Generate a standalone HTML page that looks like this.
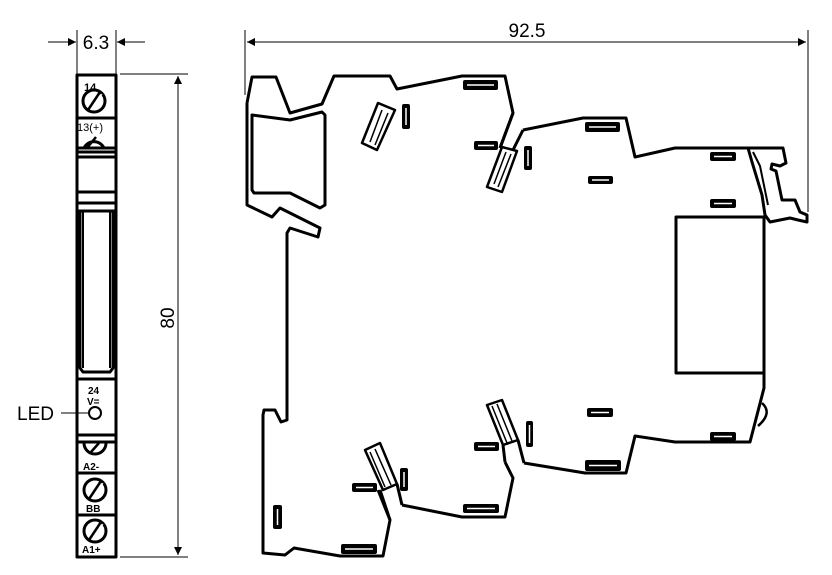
<!DOCTYPE html>
<html><head><style>
html,body{margin:0;padding:0;background:#fff;}
svg{display:block;}
text{font-family:"Liberation Sans",Arial,sans-serif;fill:#000;}
</style></head><body>
<svg width="832" height="575" viewBox="0 0 832 575" xmlns="http://www.w3.org/2000/svg">
<defs>
<marker id="ar" viewBox="0 0 10 10" refX="10" refY="5" markerWidth="12" markerHeight="8" orient="auto" markerUnits="userSpaceOnUse"><path d="M0,0 L10,5 L0,10 z" fill="#000"/></marker>
</defs>
<g stroke="#000" stroke-width="1" fill="none">
<line x1="77" y1="30" x2="77" y2="74"/>
<line x1="116" y1="30" x2="116" y2="74"/>
<line x1="48" y1="42" x2="76" y2="42" marker-end="url(#ar)"/>
<line x1="145" y1="42" x2="117" y2="42" marker-end="url(#ar)"/>
<line x1="120" y1="74" x2="188" y2="74"/>
<line x1="120" y1="557" x2="188" y2="557"/>
<line x1="178" y1="76" x2="178" y2="555" marker-end="url(#ar)"/>
<line x1="178" y1="555" x2="178" y2="76" marker-end="url(#ar)"/>
<line x1="61" y1="413" x2="88" y2="413"/>
<line x1="245" y1="30" x2="245" y2="95"/>
<line x1="808" y1="30" x2="808" y2="212"/>
<line x1="247" y1="42" x2="806" y2="42" marker-end="url(#ar)"/>
<line x1="806" y1="42" x2="247" y2="42" marker-end="url(#ar)"/>
</g>
<text x="96" y="49" font-size="19" text-anchor="middle">6.3</text>
<text x="527" y="37" font-size="19" text-anchor="middle">92.5</text>
<text x="0" y="0" font-size="19" text-anchor="middle" transform="translate(174,318) rotate(-90)">80</text>
<text x="17" y="420" font-size="19">LED</text>

<g stroke="#000" stroke-width="3" fill="none" stroke-linejoin="round">
<rect x="77" y="75" width="39" height="482"/>
<line x1="77" y1="118" x2="116" y2="118"/>
<line x1="77" y1="148" x2="116" y2="148"/>
<line x1="77" y1="152" x2="116" y2="152"/>
<line x1="77" y1="157" x2="116" y2="157"/>
<line x1="77" y1="192" x2="116" y2="192"/>
<line x1="77" y1="203" x2="116" y2="203"/>
<line x1="77" y1="211" x2="116" y2="211"/>
<path d="M80,211 V368 L83,372 H110 L113,368 V211"/>
<line x1="83" y1="211" x2="83" y2="368" stroke-width="2"/>
<line x1="110" y1="211" x2="110" y2="368" stroke-width="2"/>
<line x1="77" y1="379" x2="116" y2="379"/>
<line x1="77" y1="435" x2="116" y2="435"/>
<line x1="77" y1="442" x2="116" y2="442"/>
<line x1="77" y1="473" x2="116" y2="473"/>
<line x1="77" y1="515" x2="116" y2="515"/>
<circle cx="94" cy="101" r="11"/>
<circle cx="95" cy="413" r="6" stroke-width="2"/>
<circle cx="95" cy="490" r="11"/>
<circle cx="95" cy="531" r="11"/>
<path d="M84,148 A11,11 0 0 1 104,148"/>
<path d="M84,443 A11,11 0 0 0 106,443"/>
</g>
<g stroke="#000" stroke-width="2.5">
<line x1="88" y1="110" x2="100" y2="92"/><line x1="87" y1="148" x2="96" y2="137"/>
<line x1="89" y1="499" x2="101" y2="481"/><line x1="89" y1="540" x2="101" y2="522"/>
<line x1="91" y1="452" x2="99" y2="443"/>
</g>
<g stroke="#fff" stroke-width="1"><line x1="92" y1="109" x2="102" y2="94"/><line x1="93" y1="498" x2="103" y2="483"/><line x1="93" y1="539" x2="103" y2="524"/></g>
<text x="84" y="91" font-size="11" font-weight="bold">14</text>
<text x="77" y="131" font-size="11">13(+)</text>
<text x="88" y="394" font-size="10" font-weight="bold">24</text>
<text x="87" y="405" font-size="10" font-weight="bold">V=</text>
<text x="83" y="470" font-size="10" font-weight="bold">A2-</text>
<text x="86" y="512" font-size="10" font-weight="bold">BB</text>
<text x="82" y="553" font-size="10" font-weight="bold">A1+</text>

<g stroke="#000" stroke-width="3" fill="none" stroke-linejoin="round">
<path d="M247,103 L252,77 H276 L290,113 L322,104 L334,76 H390 L397,89 L462,76 H505 L513,113 L500,148"/>
<path d="M523,130 L583,118 H626 L635,157 L675,148 H783 L786,163 L780,166 L772,164 L771,169 L776,171 L782,200 L795,200 L800,212 L807,215 L807,222 L798,220 L790,218 L770,222 L765,215 L762,195 L752,162 L748,148"/>
<path d="M753,152 L760,166 L768,205" stroke-width="2"/>
<path d="M764,222 V388 L750,442 H675 L635,436 L626,473 H585 L524,463"/>
<path d="M762,403 Q773,413 758,426" stroke-width="2.5"/>
<rect x="676" y="217" width="88" height="156"/>
<path d="M247,103 V205 L272,217 L280,208 L320,228 L318,237 L290,228 L287,233 V420 L281,422 L275,410 H264 L263,415 V553 L285,555 L294,548 L340,556 H383 L390,520 L378,490"/>
<path d="M402,505 L462,517 H505 L513,478 L505,462"/>
<path d="M513,113 L500,148 M523,130 L513,150"/>
<path d="M252,115 L290,120 L322,112 L325,115 V205 L320,208 L290,193 H254 L252,190 Z"/>
<g stroke-width="2.5">
<path d="M378,103 L395,110 L377,150 L362,143 Z"/>
<path d="M502,147 L517,151 L502,192 L487,187 Z"/>
<path d="M365,450 L380,443 L397,484 L383,490 Z"/>
<path d="M487,405 L502,400 L518,440 L503,445 Z"/>
</g>
<path d="M382,110 L370,142 M388,113 L375,145" stroke-width="1.5"/>
<path d="M506,152 L494,184 M511,154 L498,187" stroke-width="1.5"/>
<path d="M370,452 L385,487 M375,449 L391,485" stroke-width="1.5"/>
<path d="M492,406 L507,443 M497,404 L512,441" stroke-width="1.5"/>
<path d="M380,490 L390,520 M397,484 L402,505 M505,462 L503,445 M518,440 L524,463" />
</g>
<g fill="#000">
<rect x="402" y="104" width="8" height="25" rx="2"/>
<rect x="463" y="80" width="35" height="10" rx="2"/>
<rect x="474" y="141" width="24" height="9" rx="2"/>
<rect x="524" y="146" width="8" height="24" rx="2"/>
<rect x="585" y="122" width="35" height="10" rx="2"/>
<rect x="588" y="176" width="25" height="8" rx="2"/>
<rect x="710" y="152" width="26" height="9" rx="2"/>
<rect x="710" y="199" width="26" height="9" rx="2"/>
<rect x="273" y="505" width="9" height="24" rx="2"/>
<rect x="352" y="483" width="25" height="9" rx="2"/>
<rect x="341" y="544" width="36" height="10" rx="2"/>
<rect x="400" y="468" width="8" height="23" rx="2"/>
<rect x="474" y="442" width="25" height="9" rx="2"/>
<rect x="463" y="504" width="36" height="9" rx="2"/>
<rect x="526" y="421" width="7" height="26" rx="2"/>
<rect x="587" y="408" width="26" height="9" rx="2"/>
<rect x="585" y="460" width="36" height="11" rx="2"/>
<rect x="710" y="432" width="26" height="9" rx="2"/>
</g>
<g stroke="#fff" stroke-width="1.5">
<line x1="406" y1="108" x2="406" y2="125"/>
<line x1="467" y1="85" x2="494" y2="85"/>
<line x1="478" y1="145.5" x2="494" y2="145.5"/>
<line x1="528" y1="150" x2="528" y2="166"/>
<line x1="589" y1="127" x2="616" y2="127"/>
<line x1="592" y1="180" x2="609" y2="180"/>
<line x1="714" y1="156.5" x2="732" y2="156.5"/>
<line x1="714" y1="203.5" x2="732" y2="203.5"/>
<line x1="277.5" y1="509" x2="277.5" y2="525"/>
<line x1="356" y1="487.5" x2="373" y2="487.5"/>
<line x1="345" y1="549" x2="373" y2="549"/>
<line x1="404" y1="472" x2="404" y2="487"/>
<line x1="478" y1="446.5" x2="495" y2="446.5"/>
<line x1="467" y1="508.5" x2="495" y2="508.5"/>
<line x1="529.5" y1="425" x2="529.5" y2="443"/>
<line x1="591" y1="412.5" x2="609" y2="412.5"/>
<line x1="589" y1="465.5" x2="617" y2="465.5"/>
<line x1="714" y1="436.5" x2="732" y2="436.5"/>
</g>
</svg>
</body></html>
